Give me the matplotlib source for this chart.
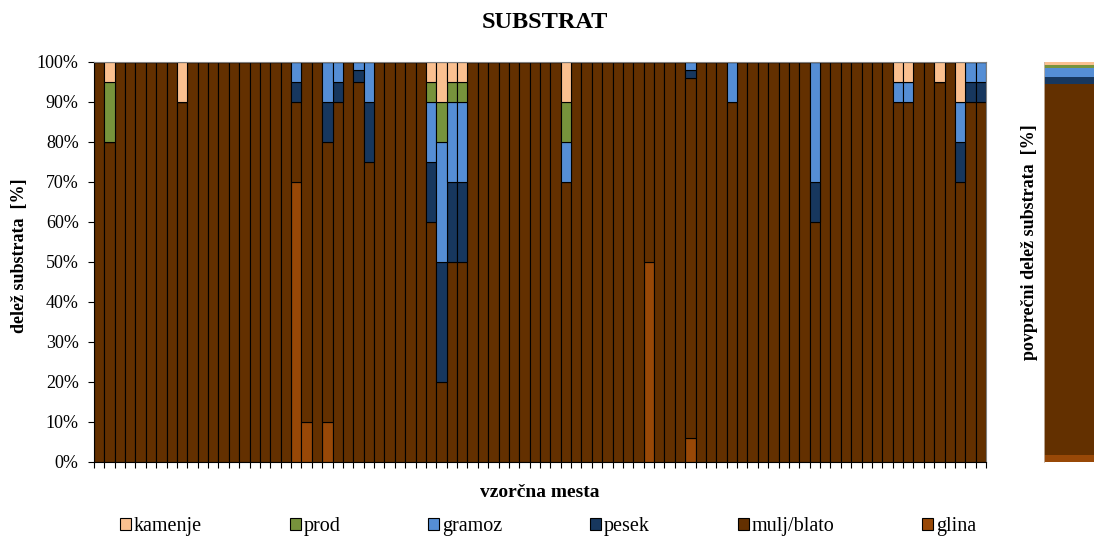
import numpy as np
import matplotlib
matplotlib.use('Agg')
from matplotlib import pyplot as plt
from matplotlib.patches import Patch

# sample sites 1..86, share of each substrate type in %
sites = np.arange(1, 87)

kamenje = [0, 5, 0, 0, 0, 0, 0, 0, 10, 0,
           0, 0, 0, 0, 0, 0, 0, 0, 0, 0,
           0, 0, 0, 0, 0, 0, 0, 0, 0, 0,
           0, 0, 5, 10, 5, 5, 0, 0, 0, 0,
           0, 0, 0, 0, 0, 10, 0, 0, 0, 0,
           0, 0, 0, 0, 0, 0, 0, 0, 0, 0,
           0, 0, 0, 0, 0, 0, 0, 0, 0, 0,
           0, 0, 0, 0, 0, 0, 0, 5, 5, 0,
           0, 5, 0, 10, 0, 0]
prod = [0, 15, 0, 0, 0, 0, 0, 0, 0, 0,
        0, 0, 0, 0, 0, 0, 0, 0, 0, 0,
        0, 0, 0, 0, 0, 0, 0, 0, 0, 0,
        0, 0, 5, 10, 5, 5, 0, 0, 0, 0,
        0, 0, 0, 0, 0, 10, 0, 0, 0, 0,
        0, 0, 0, 0, 0, 0, 0, 0, 0, 0,
        0, 0, 0, 0, 0, 0, 0, 0, 0, 0,
        0, 0, 0, 0, 0, 0, 0, 0, 0, 0,
        0, 0, 0, 0, 0, 0]
gramoz = [0, 0, 0, 0, 0, 0, 0, 0, 0, 0,
          0, 0, 0, 0, 0, 0, 0, 0, 0, 5,
          0, 0, 10, 5, 0, 2, 10, 0, 0, 0,
          0, 0, 15, 30, 20, 20, 0, 0, 0, 0,
          0, 0, 0, 0, 0, 10, 0, 0, 0, 0,
          0, 0, 0, 0, 0, 0, 0, 2, 0, 0,
          0, 10, 0, 0, 0, 0, 0, 0, 0, 30,
          0, 0, 0, 0, 0, 0, 0, 5, 5, 0,
          0, 0, 0, 10, 5, 5]
pesek = [0, 0, 0, 0, 0, 0, 0, 0, 0, 0,
         0, 0, 0, 0, 0, 0, 0, 0, 0, 5,
         0, 0, 10, 5, 0, 3, 15, 0, 0, 0,
         0, 0, 15, 30, 20, 20, 0, 0, 0, 0,
         0, 0, 0, 0, 0, 0, 0, 0, 0, 0,
         0, 0, 0, 0, 0, 0, 0, 2, 0, 0,
         0, 0, 0, 0, 0, 0, 0, 0, 0, 10,
         0, 0, 0, 0, 0, 0, 0, 0, 0, 0,
         0, 0, 0, 10, 5, 5]
mulj = [100, 80, 100, 100, 100, 100, 100, 100, 90, 100,
        100, 100, 100, 100, 100, 100, 100, 100, 100, 20,
        90, 100, 70, 90, 100, 95, 75, 100, 100, 100,
        100, 100, 60, 20, 50, 50, 100, 100, 100, 100,
        100, 100, 100, 100, 100, 70, 100, 100, 100, 100,
        100, 100, 100, 50, 100, 100, 100, 90, 100, 100,
        100, 90, 100, 100, 100, 100, 100, 100, 100, 60,
        100, 100, 100, 100, 100, 100, 100, 90, 90, 100,
        100, 95, 100, 70, 90, 90]
glina = [0, 0, 0, 0, 0, 0, 0, 0, 0, 0,
         0, 0, 0, 0, 0, 0, 0, 0, 0, 70,
         10, 0, 10, 0, 0, 0, 0, 0, 0, 0,
         0, 0, 0, 0, 0, 0, 0, 0, 0, 0,
         0, 0, 0, 0, 0, 0, 0, 0, 0, 0,
         0, 0, 0, 50, 0, 0, 0, 6, 0, 0,
         0, 0, 0, 0, 0, 0, 0, 0, 0, 0,
         0, 0, 0, 0, 0, 0, 0, 0, 0, 0,
         0, 0, 0, 0, 0, 0]

labels = ['kamenje', 'prod', 'gramoz', 'pesek', 'mulj/blato', 'glina']
colors = ['#FAC090', '#77933C', '#558ED5', '#17375E', '#633000', '#984807']

plt.rcParams['font.family'] = 'Liberation Serif'

fig = plt.figure(figsize=(10.94, 5.38), dpi=100)
ax = fig.add_axes([94 / 1094, 76 / 538, 892 / 1094, 400 / 538])

# stack from the bottom: glina first, kamenje on top
series = [kamenje, prod, gramoz, pesek, mulj, glina]
bottom = np.zeros(len(sites))
for values, color in zip(series[::-1], colors[::-1]):
    values = np.array(values, dtype=float)
    ax.bar(sites, values, bottom=bottom, width=1.0, color=color,
           edgecolor='black', linewidth=0.8)
    bottom += values

ax.set_xlim(0.5, len(sites) + 0.5)
ax.set_ylim(0, 100)
ax.set_yticks(np.arange(0, 101, 10))
ax.set_yticklabels([f'{v}%' for v in range(0, 101, 10)])
ax.set_xticks(np.arange(0.5, len(sites) + 1, 1))
ax.set_xticklabels([])
ax.tick_params(axis='y', direction='out', length=4, width=0.8, pad=7, labelsize=13)
ax.tick_params(axis='x', direction='out', length=4, width=0.8)
for side in ['top', 'right']:
    ax.spines[side].set_color('#808080')
    ax.spines[side].set_linewidth(0.8)

ax.set_xlabel('vzorčna mesta', fontsize=14, fontweight='bold', labelpad=8)
fig.text(20 / 1094, 1 - 256 / 538, 'delež substrata  [%]', rotation=90,
         ha='center', va='center', fontsize=13, fontweight='bold')
fig.text(545 / 1094, 1 - 22 / 538, 'SUBSTRAT', ha='center', va='center',
         fontsize=17.5, fontweight='bold')

# average share over all sites
ax2 = fig.add_axes([1044 / 1094, 76 / 538, 0.1, 400 / 538])
avg_bottom = 0.0
for values, color in zip(series[::-1], colors[::-1]):
    avg = np.mean(values)
    ax2.bar([0], [avg], bottom=avg_bottom, width=1.0, color=color, linewidth=0)
    avg_bottom += avg
ax2.set_xlim(-0.5, 0.5)
ax2.set_ylim(0, 100)
ax2.set_xticks([])
ax2.set_yticks([])
for side in ['top', 'right', 'bottom']:
    ax2.spines[side].set_visible(False)
ax2.spines['left'].set_color('#c8b8a8')
ax2.spines['left'].set_linewidth(0.6)
fig.text(1030 / 1094, 1 - 242 / 538, 'povprečni delež substrata  [%]', rotation=90,
         ha='center', va='center', fontsize=13, fontweight='bold')

handles = [Patch(facecolor=c, edgecolor='black', linewidth=0.8) for c in colors]
fig.legend(handles, labels, loc='center', bbox_to_anchor=(548 / 1094, 1 - 527 / 538),
           ncol=6, frameon=False, fontsize=14.5, handlelength=0.55, handleheight=0.55,
           handletextpad=0.15, columnspacing=4.35, borderpad=0)

fig.savefig('out.png', dpi=100)
